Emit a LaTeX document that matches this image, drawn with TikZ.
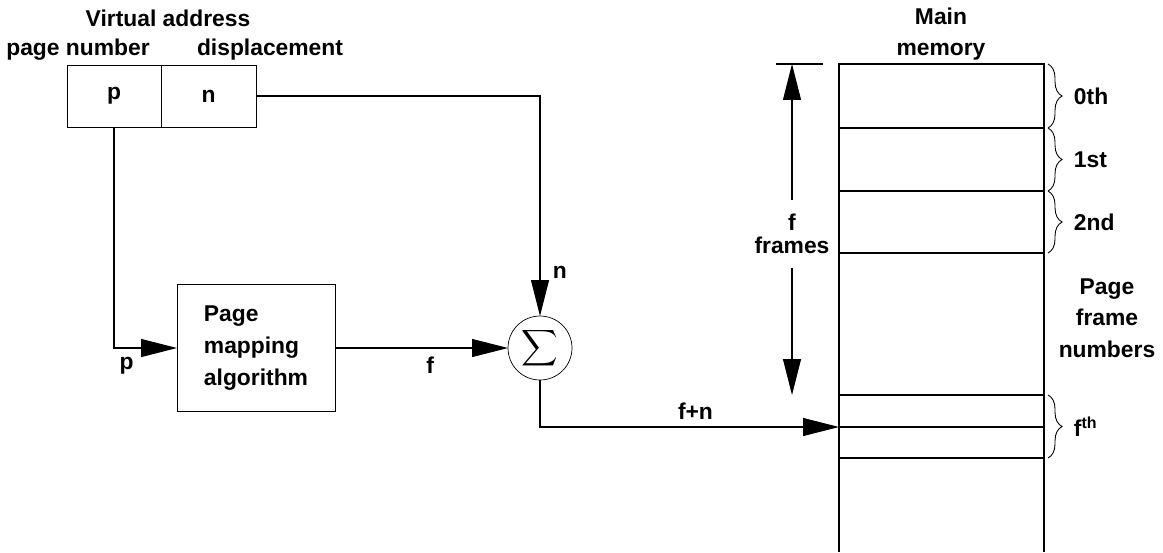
\documentclass[tikz,border=0pt]{standalone}
\usepackage{amsmath}
\usepackage{fontspec}
\setmainfont{Liberation Sans}
\usepackage{tikz}
\usetikzlibrary{arrows.meta,positioning,calc,decorations.pathreplacing}
\tikzset{
  lbl/.style={font=\bfseries\fontsize{13}{18}\selectfont,inner sep=2pt,align=center},
  cell/.style={draw,lbl,minimum height=1.24cm,outer sep=0pt},
  box/.style={draw,lbl,align=left,minimum width=3.16cm,minimum height=2.54cm,outer sep=0pt},
  sumnode/.style={draw,circle,minimum size=1.28cm,inner sep=0pt,outer sep=0pt},
  arr/.style={-{Triangle[length=0.72cm,width=0.36cm]},line width=0.6pt},
  ln/.style={line width=0.6pt},
  brc/.style={decorate,decoration={brace,amplitude=8pt},line width=0.5pt},
}
\begin{document}
\begin{tikzpicture}[x=0.02cm,y=-0.02cm]
  \useasboundingbox (0,0) rectangle (1163,552);
  % virtual address
  \node[lbl] (va) at (168,18) {Virtual address};
  \node[lbl] (pn) at (78,50) {page number};
  \node[lbl] (dp) at (270,50) {displacement};
  \node[cell,minimum width=1.88cm] (p) at (114,96) {p};
  \node[cell,minimum width=1.9cm,right=0pt of p] (n) {n};
  % mapping and sum
  \node[box] (pma) at (256,348) {Page\\mapping\\algorithm};
  \node[sumnode] (sig) at (540,348) {\fontsize{14}{14}\selectfont$\displaystyle\sum$};
  \draw[arr] (p.south) |- node[lbl,pos=0.6,below=3pt]{p} (pma.west);
  \draw[arr] (n.east) -| node[lbl,pos=0.9,right=5pt]{n} (sig.north);
  \draw[arr] (pma.east) -- node[lbl,pos=0.55,below=3pt]{f} (sig.west);
  \coordinate (fin) at (839,427);
  \draw[arr] (sig.south) |- node[lbl,pos=0.76,above=2pt]{f+n} (fin);
  % main memory
  \node[lbl] (mm) at (941,34) {Main\\memory};
  \draw[ln] (839,552) -- (839,64) -- (1044,64) -- (1044,552);
  \foreach \y in {128,191,253,395,427,458}
    \draw[ln] (839,\y) -- (1044,\y);
  \foreach \a/\b/\t in {64/128/0th,128/191/1st,191/253/2nd,395/458/f\textsuperscript{th}}
    \draw[brc] (1048,\a) -- (1048,\b) node[lbl,midway,right=0.44cm]{\t};
  \node[lbl] (pfn) at (1107,318) {Page\\frame\\numbers};
  % f frames
  \coordinate (ftop) at (792,64);
  \coordinate (fbot) at (792,395);
  \draw[ln] (776,64) -- (823,64);
  \node[lbl,font=\bfseries\fontsize{13}{13}\selectfont,outer sep=6pt] (ff) at (792,234) {f\\frames};
  \draw[arr] (ff.north) -- (ftop);
  \draw[arr] (ff.south) -- (fbot);
\end{tikzpicture}
\end{document}
